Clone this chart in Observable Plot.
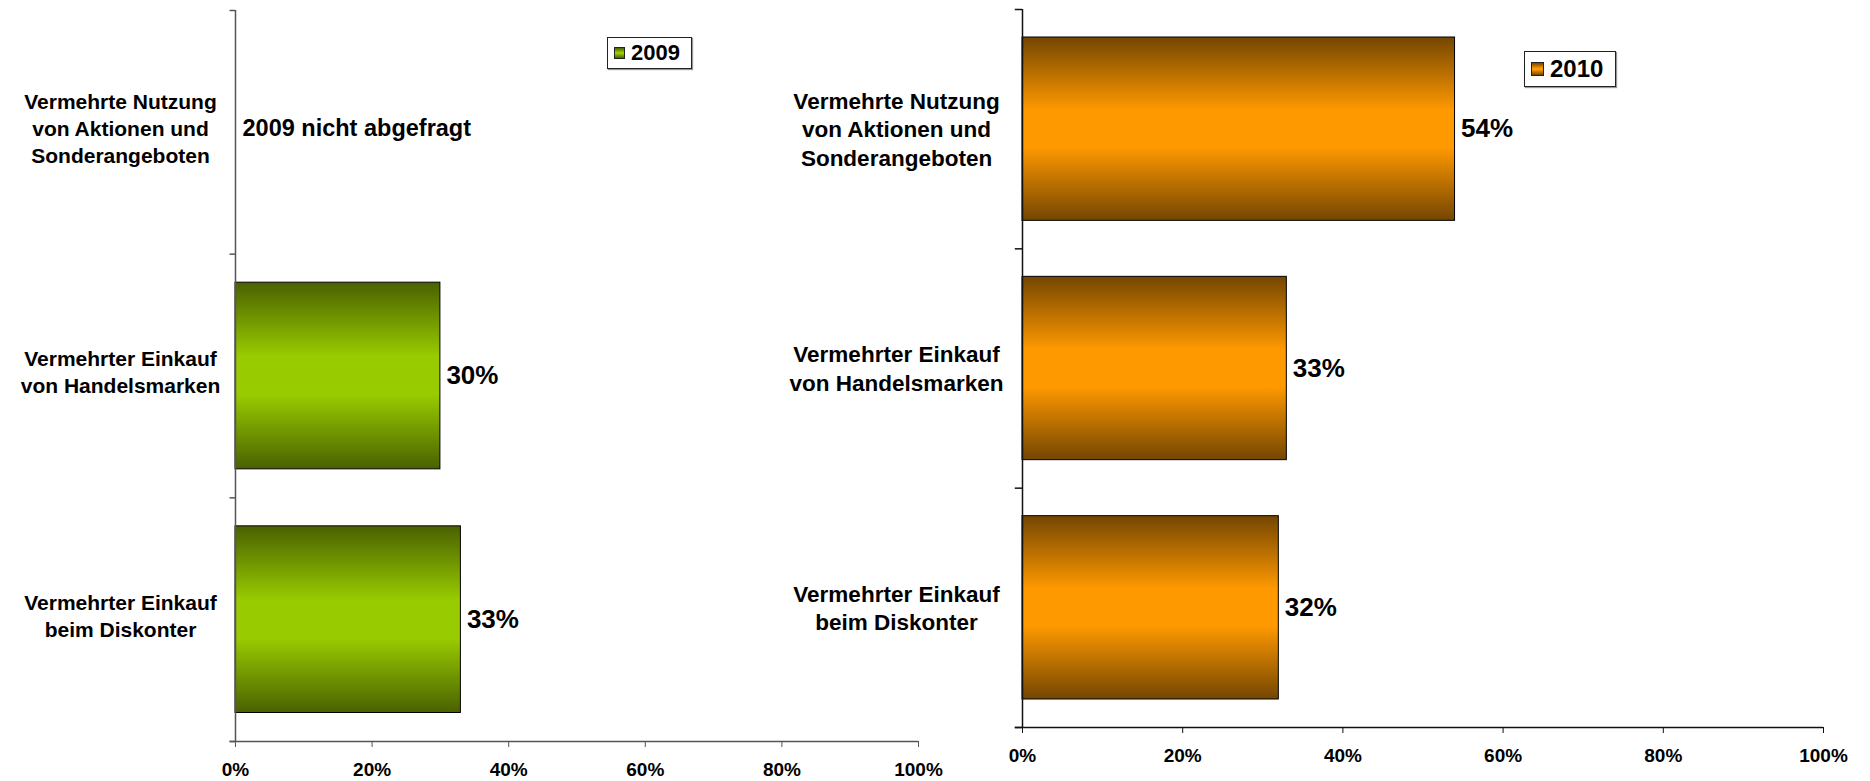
<!DOCTYPE html>
<html>
<head>
<meta charset="utf-8">
<script src="https://cdn.jsdelivr.net/npm/d3@7"></script>
<script src="https://cdn.jsdelivr.net/npm/@observablehq/plot@0.6"></script>
<style>
  html, body { margin: 0; padding: 0; background: #fff; }
  #wrap { position: relative; width: 1870px; height: 781px; overflow: hidden; font-family: "Liberation Sans", Arial, sans-serif; }
  .panel { position: absolute; top: 0; }
  .legend { position: absolute; box-sizing: border-box; border: 1px solid #222; background: #fff;
            display: flex; align-items: center; font-weight: bold; color: #000; box-shadow: 1px 1px 1px #999; }
  .sw { border: 1px solid #222; box-sizing: border-box; }
</style>
</head>
<body>
<div id="wrap"></div>
<script>
// ---- data ----
const categories = [
  "Vermehrte Nutzung\nvon Aktionen und\nSonderangeboten",
  "Vermehrter Einkauf\nvon Handelsmarken",
  "Vermehrter Einkauf\nbeim Diskonter"
];
const values2009 = [null, 0.30, 0.33];
const values2010 = [0.54, 0.33, 0.32];
const note2009 = "2009 nicht abgefragt";
const series = ["2009", "2010"];
const xTicks = [0, 0.2, 0.4, 0.6, 0.8, 1];
const xTickLabels = ["0%", "20%", "40%", "60%", "80%", "100%"];

const inset = 0.117;
const fmtPct = d3.format(".0%");

function panel(o) {
  const rows = categories.map((c, i) => ({c, i, v: o.values[i]}));
  const bars = rows.filter(d => d.v != null);
  const marks = [
    Plot.rect(bars, {
      x1: () => 0, x2: d => d.v,
      y1: d => d.i + inset, y2: d => d.i + 1 - inset,
      fill: `url(#${o.gradId})`, stroke: "#000", strokeWidth: 1
    }),
    Plot.ruleX([0], {y1: () => 0, y2: () => 3, stroke: o.axisColor, strokeWidth: o.axisWidth}),
    Plot.ruleY([0, 1, 2, 3], {x1: () => -o.tickLen, x2: () => 0, stroke: o.axisColor, strokeWidth: 1.5}),
    Plot.ruleY([3], {x1: () => -o.tickLen, x2: () => 1, stroke: o.axisColor, strokeWidth: o.axisWidth}),
    Plot.axisX({
      ticks: xTicks,
      tickFormat: d => xTickLabels[xTicks.indexOf(d)],
      tickSize: 6, tickPadding: o.tickPadding,
      fontSize: 19, fontWeight: "bold", stroke: o.axisColor, label: null
    }),
    Plot.text(rows, {
      x: () => 0, y: d => d.i + 0.5, text: "c",
      dx: o.labelDx, dy: o.labelDy, textAnchor: "middle", lineHeight: o.lineHeight,
      fontSize: o.labelSize, fontWeight: "bold", fill: "#000"
    }),
    Plot.text(bars, {
      x: d => d.v, y: d => d.i + 0.5, text: d => fmtPct(d.v),
      dx: 6, textAnchor: "start", fontSize: 26, fontWeight: "bold", fill: "#000"
    })
  ];
  if (o.note) {
    marks.push(Plot.text([o.note], {
      x: () => 0, y: () => 0.5, text: d => d, dx: 7, dy: -4,
      textAnchor: "start", fontSize: 23.5, fontWeight: "bold", fill: "#000"
    }));
  }
  const svg = Plot.plot({
    width: o.width, height: 781,
    marginLeft: o.marginLeft, marginRight: o.marginRight,
    marginTop: o.marginTop, marginBottom: o.marginBottom,
    style: {fontFamily: '"Liberation Sans", Arial, sans-serif', color: "#000", background: "transparent", overflow: "visible"},
    x: {domain: [0, 1]},
    y: {domain: [0, 3], reverse: true, axis: null},
    marks
  });
  const defs = d3.select(svg).insert("defs", ":first-child");
  const g = defs.append("linearGradient").attr("id", o.gradId)
    .attr("x1", 0).attr("y1", 0).attr("x2", 0).attr("y2", 1);
  [[0, o.dark], [0.4, o.bright], [0.6, o.bright], [1, o.dark]].forEach(([off, col]) =>
    g.append("stop").attr("offset", off).attr("stop-color", col));
  return svg;
}

const wrap = document.getElementById("wrap");

const left = panel({
  values: values2009, gradId: "gGreen", dark: "#4a6100", bright: "#99cc00",
  width: 940, marginLeft: 235, marginRight: 22, marginTop: 10, marginBottom: 40,
  labelDx: -115, labelDy: -5, labelSize: 21, lineHeight: 1.28, axisColor: "#555", axisWidth: 1.5,
  tickPadding: 15, tickLen: 0.008, note: note2009
});
left.classList.add("panel"); left.style.left = "0px";
wrap.appendChild(left);

const right = panel({
  values: values2010, gradId: "gOrange", dark: "#744600", bright: "#ff9900",
  width: 930, marginLeft: 82, marginRight: 47, marginTop: 9, marginBottom: 54,
  labelDx: -126, labelDy: -1, labelSize: 22.5, lineHeight: 1.27, axisColor: "#111", axisWidth: 1.5,
  tickPadding: 15, tickLen: 0.009, note: null
});
right.classList.add("panel"); right.style.left = "940px";
wrap.appendChild(right);

// ---- legends ----
function legend(label, x, y, w, h, fs, sw, dark, bright) {
  const d = document.createElement("div");
  d.className = "legend";
  Object.assign(d.style, {left: x + "px", top: y + "px", width: w + "px", height: h + "px",
    fontSize: fs + "px", paddingLeft: "6px", gap: "6px"});
  const s = document.createElement("div");
  s.className = "sw";
  Object.assign(s.style, {width: sw + "px", height: sw + 1 + "px",
    background: `linear-gradient(to bottom, ${dark}, ${bright} 45%, ${bright} 55%, ${dark})`});
  const t = document.createElement("span");
  t.textContent = label;
  d.appendChild(s); d.appendChild(t);
  wrap.appendChild(d);
}
legend(series[0], 607, 37, 85, 32, 22, 11, "#4a6100", "#99cc00");
legend(series[1], 1524, 51, 92, 36, 24, 13, "#744600", "#ff9900");
</script>
</body>
</html>
